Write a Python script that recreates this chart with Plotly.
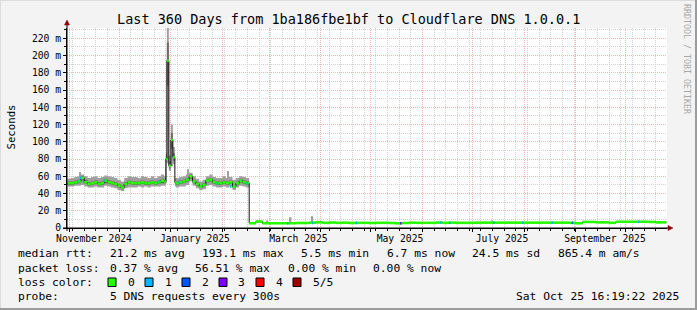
import pandas as pd
import plotly.graph_objects as go

# ---------------- data ----------------
START = "2024-10-30 16:19:22"
END = "2025-10-25 16:19:22"
TITLE = "Last 360 Days from 1ba186fbe1bf to Cloudflare DNS 1.0.0.1"

X_LABELS = ["November 2024", "January 2025", "March 2025", "May 2025", "July 2025", "September 2025"]
X_LABEL_DATES = ["2024-11-15 21:00", "2025-01-15 11:00", "2025-03-18 13:00",
                 "2025-05-18 11:00", "2025-07-18 16:00", "2025-09-18 11:00"]

Y_TICKS = [0, 20, 40, 60, 80, 100, 120, 140, 160, 180, 200, 220]
Y_LABELS = ["0", "20 m", "40 m", "60 m", "80 m", "100 m", "120 m", "140 m",
            "160 m", "180 m", "200 m", "220 m"]

# segment 1: every 2 days from 2024-10-31 (ms)
MED_1 = [52, 52, 53, 54, 58, 53, 51, 52, 53, 51, 52, 55, 53, 52, 51, 49, 47, 51, 53, 52,
         52, 52, 53, 52, 52, 53, 52, 53, 55, 54]
LO_1 = [48, 48, 49, 49, 50, 48, 47, 47, 48, 47, 47, 49, 48, 47, 46, 44, 43, 46, 47, 47,
        47, 48, 47, 48, 47, 48, 48, 48, 49, 49]
HI_1 = [57, 58, 59, 60, 62, 60, 58, 59, 60, 58, 59, 61, 60, 59, 58, 56, 54, 58, 60, 59,
        59, 58, 60, 59, 58, 60, 58, 60, 62, 60]
IN_LO_1 = [50, 50, 51, 52, 55, 51, 49, 50, 51, 49, 50, 52, 51, 50, 49, 47, 45, 49, 51, 50,
           50, 50, 51, 50, 50, 51, 50, 51, 52, 52]
IN_HI_1 = [54, 54, 55, 56, 60, 56, 53, 54, 55, 53, 54, 57, 55, 54, 53, 51, 49, 53, 55, 54,
           54, 54, 55, 54, 54, 55, 54, 55, 57, 56]

# spike: every 14.4 h from 2024-12-29
MED_SPIKE = [80, 194, 194, 72, 72, 102, 102, 82, 82, 53]
LO_SPIKE = [52, 75, 75, 66, 66, 72, 72, 74, 74, 48]
HI_SPIKE = [86, 236, 236, 84, 84, 120, 120, 94, 94, 58]
IN_LO_SPIKE = [77, 165, 165, 69, 69, 92, 92, 78, 78, 51]
IN_HI_SPIKE = [83, 215, 215, 77, 77, 110, 110, 87, 87, 55]

# segment 2: every 2 days from 2025-01-04
MED_2 = [52, 53, 54, 56, 60, 54, 51, 48, 50, 55, 56, 53, 52, 52, 53, 52, 53, 48, 52, 55,
         53, 52]
LO_2 = [47, 48, 48, 50, 54, 49, 46, 44, 45, 49, 50, 48, 47, 47, 48, 47, 48, 44, 47, 49,
        48, 47]
HI_2 = [58, 59, 60, 62, 64, 60, 57, 54, 56, 60, 62, 59, 58, 58, 60, 58, 59, 56, 58, 60,
        59, 58]
IN_LO_2 = [50, 51, 52, 54, 57, 52, 49, 46, 48, 53, 54, 51, 50, 50, 51, 50, 51, 46, 50, 53,
           51, 50]
IN_HI_2 = [54, 55, 56, 58, 62, 56, 53, 50, 52, 57, 58, 55, 54, 54, 55, 54, 55, 50, 54, 57,
           55, 54]

# segment 3: every 4 days from 2025-02-17
MED_3 = [5.5, 7.5, 5.5, 5.5, 5.5, 5.5, 5.5, 5.8, 5.8, 6.2,
         6.5, 6.0, 6.3, 6.0, 6.2, 5.8, 6.0, 6.0, 5.8, 6.0,
         6.0, 5.8, 5.5, 5.8, 6.2, 6.0, 6.0, 6.0, 6.3, 6.0,
         6.2, 6.0, 6.0, 6.0, 6.2, 6.2, 6.2, 6.2, 6.2, 6.2,
         6.2, 6.2, 6.2, 6.2, 6.2, 6.2, 6.2, 6.2, 6.0, 5.5,
         7.0, 7.0, 6.5, 6.5, 6.0, 7.2, 7.2, 7.2, 7.2, 7.2,
         7.0, 6.5, 6.5]
LO_3 = [4.9, 6.0, 4.9, 4.9, 4.9, 4.9, 4.9, 5.2, 5.2, 5.6,
        5.9, 5.4, 5.7, 5.4, 5.6, 5.2, 5.4, 5.4, 5.2, 5.4,
        5.4, 5.2, 4.9, 5.2, 5.6, 5.4, 5.4, 5.4, 5.7, 5.4,
        5.6, 5.4, 5.4, 5.4, 5.6, 5.6, 5.6, 5.6, 5.6, 5.6,
        5.6, 5.6, 5.6, 5.6, 5.6, 5.6, 5.6, 5.6, 5.4, 4.9,
        6.4, 6.4, 5.9, 5.9, 5.4, 6.6, 6.6, 6.6, 6.6, 6.6,
        6.4, 5.9, 5.9]
HI_3 = [6.4, 8.3, 6.4, 6.4, 6.4, 6.4, 6.4, 6.7, 6.7, 7.0,
        7.4, 6.9, 7.2, 6.9, 7.1, 6.7, 6.9, 6.9, 6.7, 6.9,
        6.9, 6.7, 6.4, 6.7, 7.1, 6.9, 6.9, 6.9, 7.2, 6.9,
        7.1, 6.9, 6.9, 6.9, 7.1, 7.1, 7.1, 7.1, 7.1, 7.1,
        7.1, 7.1, 7.1, 7.1, 7.1, 7.1, 7.1, 7.1, 6.9, 6.4,
        7.9, 7.9, 7.4, 7.4, 6.9, 8.1, 8.1, 8.1, 8.1, 8.1,
        7.9, 7.4, 7.4]

NOW_T = "2025-10-25 06:00"
NOW_MED, NOW_LO, NOW_HI = 6.7, 6.1, 7.4

# short smoke bursts (time, low, high)
BURST_T = ["2024-11-07 11:00", "2025-01-11 06:00", "2025-02-04 06:00", "2025-02-27 21:00",
           "2025-03-13 19:00", "2025-03-26 21:00", "2025-07-12 16:00"]
BURST_LO = [50, 55, 50, 5.5, 5.5, 5.5, 6.0]
BURST_HI = [65, 68, 66, 8.7, 12.5, 13.7, 8.7]

# packet-loss events (time, median, lost pings)
LOSS_T = ["2024-11-05 16:00", "2024-11-07 11:00", "2024-11-21 07:00", "2024-12-24 16:00",
          "2025-01-05 11:00", "2025-01-28 11:00", "2025-02-05 11:00", "2025-02-15 11:00",
          "2025-03-11 16:00", "2025-03-26 16:00", "2025-04-21 21:00", "2025-05-18 11:00",
          "2025-06-11 11:00", "2025-06-16 21:00", "2025-07-13 07:00", "2025-07-30 16:00",
          "2025-08-17 11:00", "2025-08-29 11:00", "2025-10-08 07:00"]
LOSS_V = [54, 58, 55, 54, 53, 52, 48, 52,
          5.5, 5.8, 6.0, 5.5, 6.3, 6.0, 6.2, 6.2, 6.2, 6.0, 7.2]
LOSS_N = [1, 1, 1, 1, 1, 1, 1, 1, 1, 1, 1, 3, 1, 1, 1, 1, 1, 2, 1]

LOSS_LABELS = ["0", "1", "2", "3", "4", "5/5"]
LOSS_COLORS = ["#26ff00", "#00b8ff", "#0059ff", "#7e00ff", "#ff0000", "#a10000"]

LEGEND_RTT = ["21.2 ms avg", "193.1 ms max", "5.5 ms min", "6.7 ms now", "24.5 ms sd", "865.4 m am/s"]
LEGEND_LOSS = ["0.37 % avg", "56.51 % max", "0.00 % min", "0.00 % now"]
PROBE = "5 DNS requests every 300s"
STAMP = "Sat Oct 25 16:19:22 2025"

# ---------------- build ----------------
t1 = list(pd.date_range("2024-10-31 00:00", periods=len(MED_1), freq="2D"))
ts = list(pd.date_range("2024-12-29 00:00", periods=len(MED_SPIKE), freq="864min"))
t2 = list(pd.date_range("2025-01-04 00:00", periods=len(MED_2), freq="2D"))
t3 = list(pd.date_range("2025-02-17 00:00", periods=len(MED_3), freq="4D"))
times = t1 + ts + t2 + t3 + [pd.Timestamp(NOW_T)]
med = MED_1 + MED_SPIKE + MED_2 + MED_3 + [NOW_MED]
lo = LO_1 + LO_SPIKE + LO_2 + LO_3 + [NOW_LO]
hi = HI_1 + HI_SPIKE + HI_2 + HI_3 + [NOW_HI]
in_t = t1 + ts + t2 + [t3[0]]
in_lo = IN_LO_1 + IN_LO_SPIKE + IN_LO_2 + [IN_LO_2[-1]]
in_hi = IN_HI_1 + IN_HI_SPIKE + IN_HI_2 + [IN_HI_2[-1]]

STEP = pd.Timedelta(hours=14.4)

W, H = 697, 310
L, T, PW, PH = 67, 28, 600, 200


def px(x):
    return (x - L) / PW


def py(y):
    return (T + PH - y) / PH


SMOKE_OUT = "#a0a0a0"
SMOKE_IN = "#6c6c6c"

fig = go.Figure()
# outer smoke
fig.add_trace(go.Scatter(x=times, y=lo, mode="lines", line=dict(width=0, shape="hv"),
                         hoverinfo="skip", showlegend=False))
fig.add_trace(go.Scatter(x=times, y=hi, mode="lines", line=dict(width=0, shape="hv"),
                         fill="tonexty", fillcolor=SMOKE_OUT, hoverinfo="skip", showlegend=False))
# short bursts
fig.add_trace(go.Bar(x=[pd.Timestamp(t) for t in BURST_T],
                     y=[h - l for h, l in zip(BURST_HI, BURST_LO)], base=BURST_LO,
                     width=86400000 * 1.0, marker=dict(color=SMOKE_OUT, line=dict(width=0)),
                     hoverinfo="skip", showlegend=False))
# inner smoke
fig.add_trace(go.Scatter(x=in_t, y=in_lo, mode="lines", line=dict(width=0, shape="hv"),
                         hoverinfo="skip", showlegend=False))
fig.add_trace(go.Scatter(x=in_t, y=in_hi, mode="lines", line=dict(width=0, shape="hv"),
                         fill="tonexty", fillcolor=SMOKE_IN, hoverinfo="skip", showlegend=False))
# dark median line
fig.add_trace(go.Scatter(x=times, y=med, mode="lines", xaxis="x2",
                         line=dict(color="#101010", width=1, shape="hv"),
                         hoverinfo="skip", showlegend=False))
# loss-0 coloured median bars
gx, gy = [], []
for i in range(len(times) - 1):
    gx += [times[i], times[i + 1], None]
    gy += [med[i], med[i], None]
fig.add_trace(go.Scatter(x=gx, y=gy, mode="lines", xaxis="x2",
                         line=dict(color=LOSS_COLORS[0], width=2.6),
                         hoverinfo="skip", showlegend=False))
# loss events
for c in sorted(set(LOSS_N)):
    ex, ey = [], []
    for t, v, n in zip(LOSS_T, LOSS_V, LOSS_N):
        if n == c:
            tt = pd.Timestamp(t)
            ex += [tt, tt + STEP * 1.5, None]
            ey += [v, v, None]
    fig.add_trace(go.Scatter(x=ex, y=ey, mode="lines", xaxis="x2",
                             line=dict(color=LOSS_COLORS[c], width=2.6),
                             hoverinfo="skip", showlegend=False))

GRID = "#d0d0d0"
MGRID = "#f5b4b4"
DASH = "1px,1px"
MONO = "DejaVu Sans Mono"

fig.update_layout(
    width=W, height=H,
    margin=dict(l=L, r=W - L - PW, t=T, b=H - T - PH, pad=0),
    paper_bgcolor="#f3f3f3", plot_bgcolor="#ffffff",
    showlegend=False, barmode="overlay",
    font=dict(family=MONO, size=10, color="#000000"),
    xaxis=dict(type="date", range=[START, END], tickmode="linear", tick0="2024-11-01",
               dtick="M1", showticklabels=False, showgrid=True, gridcolor=MGRID,
               griddash=DASH, gridwidth=1, ticks="outside", ticklen=3, tickcolor="#000",
               showline=True, linecolor="#000", linewidth=1,
               minor=dict(tickmode="linear", tick0="2024-11-03", dtick=7 * 86400000,
                          showgrid=True, gridcolor=GRID, griddash=DASH, gridwidth=1,
                          ticks="outside", ticklen=2, tickcolor="#000")),
    xaxis2=dict(type="date", range=[START, END], overlaying="x", anchor="y", side="bottom",
                tickmode="array", tickvals=X_LABEL_DATES, ticktext=X_LABELS,
                showgrid=False, ticks="", showline=False, ticklabelstandoff=3,
                tickfont=dict(family=MONO, size=9.7, color="#000")),
    yaxis=dict(range=[0, 231.9], tickmode="array", tickvals=Y_TICKS, ticktext=Y_LABELS,
               showgrid=True, gridcolor=MGRID, griddash=DASH, gridwidth=1,
               ticks="outside", ticklen=3, tickcolor="#000", zeroline=False,
               showline=True, linecolor="#000", linewidth=1,
               tickfont=dict(family=MONO, size=9.7, color="#000"),
               minor=dict(tickmode="linear", tick0=0, dtick=10, showgrid=True,
                          gridcolor=GRID, griddash=DASH, gridwidth=1,
                          ticks="outside", ticklen=2, tickcolor="#000")),
)

shapes = []
# frame shading
shapes.append(dict(type="line", xref="paper", yref="paper", x0=px(0), x1=px(W), y0=py(0.5), y1=py(0.5),
                   line=dict(color="#dcdcdc", width=1)))
shapes.append(dict(type="line", xref="paper", yref="paper", x0=px(0.5), x1=px(0.5), y0=py(0), y1=py(H),
                   line=dict(color="#dcdcdc", width=1)))
shapes.append(dict(type="line", xref="paper", yref="paper", x0=px(0), x1=px(W), y0=py(H - 1), y1=py(H - 1),
                   line=dict(color="#9c9c9c", width=2)))
shapes.append(dict(type="line", xref="paper", yref="paper", x0=px(W - 1), x1=px(W - 1), y0=py(0), y1=py(H),
                   line=dict(color="#9c9c9c", width=2)))
# axis extensions + arrows
shapes.append(dict(type="line", xref="paper", yref="paper", x0=px(63), x1=px(669), y0=py(228), y1=py(228),
                   line=dict(color="#000", width=1)))
shapes.append(dict(type="line", xref="paper", yref="paper", x0=px(67), x1=px(67), y0=py(231), y1=py(24),
                   line=dict(color="#000", width=1)))
shapes.append(dict(type="path", xref="paper", yref="paper",
                   path=f"M {px(668)},{py(225.5)} L {px(673)},{py(228)} L {px(668)},{py(230.5)} Z",
                   fillcolor="#8b0000", line=dict(color="#8b0000", width=0.5)))
shapes.append(dict(type="path", xref="paper", yref="paper",
                   path=f"M {px(64.5)},{py(25)} L {px(67)},{py(20)} L {px(69.5)},{py(25)} Z",
                   fillcolor="#8b0000", line=dict(color="#8b0000", width=0.5)))

annotations = []


def text(x, y, s, size=11.3, anchor="left", color="#000", angle=0):
    annotations.append(dict(x=px(x), y=py(y), xref="paper", yref="paper", text=s,
                            showarrow=False, xanchor=anchor, yanchor="middle",
                            textangle=angle,
                            font=dict(family=MONO, size=size, color=color)))


text(348.5, 19, TITLE, size=13.5, anchor="center")
text(10.5, 127, "Seconds", size=10.7, anchor="center", angle=-90)
text(687, 59, "RRDTOOL / TOBI OETIKER", size=8.3, anchor="center", color="#a8a8a8", angle=90)

GAP = 17.6
CW = 6.8
row_y = [254, 268, 282, 296]
text(16, row_y[0], "median rtt:")
x = 107.6
for s in LEGEND_RTT:
    text(x, row_y[0], s)
    x += len(s) * CW + GAP
text(16, row_y[1], "packet loss:")
x = 107.6
for s in LEGEND_LOSS:
    text(x, row_y[1], s)
    x += len(s) * CW + GAP
text(16, row_y[2], "loss color:")
bx = 108
for lab, col in zip(LOSS_LABELS, LOSS_COLORS):
    shapes.append(dict(type="rect", xref="paper", yref="paper", x0=px(bx), x1=px(bx + 8),
                       y0=py(286.5), y1=py(278), fillcolor=col, line=dict(color="#000", width=1)))
    text(bx + 17.5, row_y[2], lab)
    bx += 37
text(16, row_y[3], "probe:")
text(107.6, row_y[3], PROBE)
text(681, row_y[3], STAMP, anchor="right")

fig.update_layout(shapes=shapes, annotations=annotations)
fig.write_html("out.html")
